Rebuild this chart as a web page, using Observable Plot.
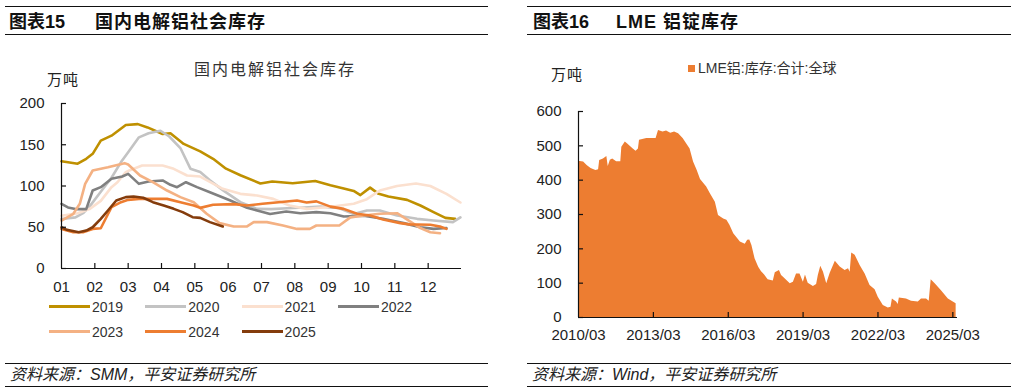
<!DOCTYPE html>
<html><head><meta charset="utf-8">
<script src="https://cdn.jsdelivr.net/npm/d3@7"></script>
<script src="https://cdn.jsdelivr.net/npm/@observablehq/plot@0.6"></script>
<style>
body{margin:0;background:#fff;}
#page{position:relative;width:1017px;height:392px;overflow:hidden;font-family:"Liberation Sans",Arial,"Noto Sans CJK SC",sans-serif;color:#222;background:#fff;}
.rule{position:absolute;height:1.5px;background:#111;}
.ttl{position:absolute;top:13px;font-size:18px;font-weight:700;line-height:18px;white-space:nowrap;color:#111;}
.foot{position:absolute;top:367px;font-size:16px;line-height:16px;font-style:italic;white-space:nowrap;color:#222;}
.unit{position:absolute;font-size:15px;line-height:15px;letter-spacing:1px;color:#222;white-space:nowrap;}
.plotbox{position:absolute;top:90px;}
.plotbox svg{overflow:visible;}
#legL{position:absolute;left:49px;top:294px;width:400px;display:flex;flex-wrap:wrap;}
.li{width:96.3px;height:25px;display:flex;align-items:center;font-size:14px;color:#333;}
.sw{width:41px;height:3px;margin-right:2px;}
</style></head>
<body><div id="page">
  <div class="rule" style="left:5px;width:483px;top:5.5px"></div>
  <div class="ttl" style="left:9px">图表15</div>
  <div class="ttl" style="left:95px;letter-spacing:1px">国内电解铝社会库存</div>
  <div class="rule" style="left:5px;width:483px;top:33.5px"></div>

  <div class="rule" style="left:527px;width:484px;top:5.5px"></div>
  <div class="ttl" style="left:533px">图表16</div>
  <div class="ttl" style="left:616px;letter-spacing:1px">LME 铝锭库存</div>
  <div class="rule" style="left:527px;width:484px;top:33.5px"></div>

  <div style="position:absolute;left:165px;width:220px;top:62px;text-align:center;font-size:16px;line-height:16px;letter-spacing:2px;color:#333;white-space:nowrap">国内电解铝社会库存</div>
  <div class="unit" style="left:47px;top:72px">万吨</div>
  <div class="unit" style="left:551px;top:67px">万吨</div>
  <div style="position:absolute;left:688px;top:64.5px;width:7px;height:7px;background:#ED7D31"></div>
  <div style="position:absolute;left:698px;top:61px;font-size:14px;line-height:14px;color:#333;white-space:nowrap">LME铝:库存:合计:全球</div>

  <div class="plotbox" id="left" style="left:0px"></div>
  <div class="plotbox" id="right" style="left:510px"></div>
  <div id="legL"></div>

  <div class="rule" style="left:5px;width:483px;top:362.5px"></div>
  <div class="foot" style="left:10px">资料来源：SMM，平安证券研究所</div>
  <div class="rule" style="left:5px;width:483px;top:385.5px"></div>

  <div class="rule" style="left:527px;width:484px;top:362.5px"></div>
  <div class="foot" style="left:532px">资料来源：Wind，平安证券研究所</div>
  <div class="rule" style="left:527px;width:484px;top:385.5px"></div>
</div>
<script>
// ---------------- data: left chart (万吨) ----------------
const years = ["2019","2020","2021","2022","2023","2024","2025"];
const yearColors = ["#BF9000","#C3C3C3","#FBE0CF","#808080","#F4B183","#ED7D31","#843C0C"];
const monthLabels = ["01","02","03","04","05","06","07","08","09","10","11","12"];
const yTicksLeft = [0,50,100,150,200];

const s2019 = [["01-01",130],["01-16",127],["01-24",133],["01-30",139],["02-06",155],["02-15",161],["02-27",174],["03-10",175],["03-19",171],["04-02",163],["04-09",164],["04-21",151],["05-06",142],["05-18",133],["05-30",121],["06-12",113],["06-30",103],["07-11",105.5],["07-30",103.4],["08-20",106],["09-03",101],["09-15",97],["09-24",94],["09-30",89],["10-09",98],["10-17",90.5],["10-26",87.3],["11-12",83.2],["11-24",76.4],["12-06",68.3],["12-17",61.4],["12-26",60.2]];
const s2020 = [["01-01",60],["01-14",62],["01-21",67],["01-27",75],["02-06",93],["02-15",110],["02-23",129],["03-01",141],["03-11",159],["03-20",164],["03-31",167],["04-08",160],["04-18",146],["04-27",121],["05-06",117],["05-15",107],["05-27",95],["06-12",80.4],["06-27",72.3],["07-10",72],["07-25",73],["08-10",74],["08-25",75],["09-10",73.5],["09-24",66],["10-06",70.3],["10-18",70.3],["11-03",64.2],["11-21",60.2],["12-06",58.2],["12-24",56.2],["12-31",62]];
const s2021 = [["01-01",64],["01-16",67],["01-27",72],["02-06",82],["02-15",98.6],["02-20",104.6],["02-27",116.8],["03-02",118.8],["03-14",124.8],["03-20",124.8],["04-02",124.8],["04-12",120.8],["04-24",112.7],["05-06",111.5],["05-15",105],["05-27",96.6],["06-12",90.5],["06-27",88.5],["07-12",84.4],["07-27",76.4],["08-12",72.3],["08-30",74.3],["09-12",76.4],["09-24",78.4],["10-06",84],["10-18",94.5],["11-03",100],["11-20",103],["12-03",100],["12-18",90.5],["12-31",80]];
const s2022 = [["01-01",78.4],["01-07",74],["01-14",72],["01-24",72],["01-30",94.5],["02-06",98.6],["02-15",108.7],["02-24",111.5],["03-01",114.7],["03-11",102.6],["03-20",105.5],["04-02",106.7],["04-09",101.4],["04-15",98.6],["04-23",104.6],["05-03",98.6],["05-15",92.5],["06-03",82.4],["06-18",73.5],["06-27",70.3],["07-09",66],["07-24",69],["08-06",67],["08-21",68.3],["09-03",67],["09-15",63],["10-03",64],["10-21",60.2],["11-09",55],["11-24",50],["12-06",48],["12-18",49]];
const s2023 = [["01-01",58],["01-12",66.3],["01-18",78.4],["01-23",102.6],["01-30",118.8],["02-12",122.8],["02-26",127.7],["03-01",126],["03-12",112.7],["03-24",104.6],["04-06",94.5],["04-18",86.5],["04-30",80.4],["05-12",66.3],["05-24",55],["06-06",51],["06-18",51],["06-24",56.2],["07-06",56.2],["07-21",52.1],["08-03",48],["08-15",48],["08-21",52.1],["09-11",52.1],["09-21",62],["10-03",64.2],["10-18",66.3],["11-03",67],["11-09",62],["11-24",49],["12-03",44],["12-12",42.8]];
const s2024 = [["01-01",48],["01-12",44],["01-21",44],["01-30",48],["02-06",48.8],["02-15",74.3],["02-23",80.4],["03-01",83.2],["03-11",84.4],["03-24",84.4],["04-06",84.4],["04-18",80.4],["04-30",76.4],["05-06",73.5],["05-18",77.2],["06-06",78],["06-18",76.4],["07-02",78.4],["07-17",80.4],["08-03",82.4],["08-12",80],["08-21",81.4],["09-03",75],["09-15",72.3],["09-27",66.3],["10-09",64.2],["10-21",59.5],["11-06",55],["11-14",53.5],["11-21",53.3],["12-03",53],["12-12",50.9],["12-18",48]];
const s2025 = [["01-01",50],["01-06",46.9],["01-17",44],["01-24",46],["01-30",50],["02-06",60.2],["02-12",70.3],["02-19",82.4],["02-27",86.5],["03-06",87.3],["03-15",85.7],["03-24",80.4],["04-03",76.4],["04-12",72.3],["04-20",68.3],["04-29",62.2],["05-06",61.4],["05-15",56.2],["05-27",50.9]];
const seriesLeft = [s2019,s2020,s2021,s2022,s2023,s2024,s2025];

// ---------------- data: right chart (万吨) ----------------
const lmeSeriesName = "LME铝:库存:合计:全球";
const yTicksRight = [0,100,200,300,400,500,600];
const xTickLabelsRight = ["2010/03","2013/03","2016/03","2019/03","2022/03","2025/03"];
const lmeDomainEnd = "2025-05-08";
const lme = [["2010-03-01",455],["2010-05-15",453],["2010-07-05",443],["2010-09-01",434],["2010-11-10",428],["2010-12-20",430],["2011-01-05",457],["2011-03-01",462],["2011-04-20",469],["2011-05-10",440],["2011-06-10",458],["2011-07-15",462],["2011-09-10",454],["2011-11-10",454],["2011-11-25",496],["2012-01-15",511],["2012-02-15",506],["2012-05-10",491],["2012-06-20",484],["2012-07-25",491],["2012-08-10",516],["2012-11-25",521],["2013-04-10",521],["2013-05-15",545],["2013-07-20",540],["2013-09-10",543],["2013-11-10",537],["2014-01-05",540],["2014-03-05",535],["2014-05-10",521],["2014-08-20",491],["2014-10-10",453],["2014-12-01",429],["2015-01-20",402],["2015-04-20",380],["2015-06-15",360],["2015-08-25",336],["2015-10-10",297],["2015-12-25",287],["2016-02-10",283],["2016-03-25",269],["2016-05-20",244],["2016-08-25",220],["2016-11-05",213],["2016-12-10",225],["2017-01-10",226],["2017-02-10",210],["2017-03-28",171],["2017-05-20",146],["2017-07-01",133],["2017-08-15",124],["2017-10-05",110],["2017-12-20",106],["2018-01-18",130],["2018-03-20",137],["2018-04-20",122],["2018-06-10",113],["2018-08-25",98],["2018-10-10",103],["2018-11-25",127],["2019-01-15",127],["2019-03-05",103],["2019-04-05",124],["2019-05-15",100],["2019-07-30",90],["2019-09-15",96],["2019-10-10",122],["2019-11-15",149],["2019-12-25",132],["2020-02-10",98],["2020-04-01",129],["2020-06-15",164],["2020-08-25",147],["2020-11-05",137],["2020-12-25",142],["2021-01-18",132],["2021-02-10",188],["2021-04-01",181],["2021-06-15",151],["2021-08-25",127],["2021-11-05",93],["2022-01-18",81],["2022-03-05",59],["2022-05-18",35],["2022-07-30",28],["2022-09-08",30],["2022-09-28",54],["2022-11-28",45],["2022-12-22",38],["2023-01-08",57],["2023-04-22",54],["2023-07-05",47],["2023-10-12",45],["2023-11-28",54],["2024-02-10",54],["2024-03-20",47],["2024-04-18",110],["2024-06-15",98],["2024-09-15",78],["2024-12-25",54],["2025-04-18",40]];

// ---------------- build ----------------
const daysIn = [31,28,31,30,31,30,31,31,30,31,30,31];
function monthPos(s){const [m,d]=s.split("-").map(Number);return m+(d-1)/daysIn[m-1];}
const leftRows = [];
seriesLeft.forEach((s,i)=>s.forEach(([t,v])=>leftRows.push({year:years[i],m:monthPos(t),v})));
const monthTicks = monthLabels.map((_,i)=>i+1);
const axisFont = "Liberation Sans, Arial, sans-serif";

const leftPlot = Plot.plot({
  width:488,height:210,marginLeft:61,marginRight:27,marginTop:13,marginBottom:32,
  style:{fontFamily:axisFont,fontSize:"15px",color:"#222",background:"transparent",overflow:"visible"},
  x:{domain:[1,13]},
  y:{domain:[0,200]},
  color:{domain:years,range:yearColors},
  marks:[
    Plot.line(leftRows,{x:"m",y:"v",z:"year",stroke:"year",strokeWidth:2.6,strokeLinejoin:"round",strokeLinecap:"round"}),
    Plot.ruleX([1],{stroke:"#111",strokeWidth:1.2}),
    Plot.ruleY([0],{stroke:"#111",strokeWidth:1.2}),
    Plot.tickX(monthTicks.slice(1),{x:d=>d,insetTop:160,stroke:"#111",strokeWidth:1.2}),
    Plot.tickY(yTicksLeft,{y:d=>d,insetRight:395,stroke:"#111",strokeWidth:1.2}),
    Plot.axisY({ticks:yTicksLeft,tickSize:0,tickPadding:17,label:null,fontSize:15}),
    Plot.axisX({ticks:monthTicks,tickSize:0,tickPadding:13,label:null,fontSize:15,tickFormat:d=>monthLabels[d-1]})
  ]
});
document.getElementById("left").appendChild(leftPlot);

const parse = d3.utcParse("%Y-%m-%d");
const lmeRows = lme.map(([t,v])=>({date:parse(t),v}));
const xTicksRight = xTickLabelsRight.map(s=>{const [y,m]=s.split("/").map(Number);return new Date(Date.UTC(y,m-1,1));});
const rightPlot = Plot.plot({
  width:507,height:260,marginLeft:68,marginRight:60,marginTop:21,marginBottom:33,
  style:{fontFamily:axisFont,fontSize:"15px",color:"#222",background:"transparent",overflow:"visible"},
  x:{type:"utc",domain:[xTicksRight[0],parse(lmeDomainEnd)]},
  y:{domain:[0,600]},
  marks:[
    Plot.areaY(lmeRows,{x:"date",y:"v",fill:"#ED7D31",curve:"linear",title:()=>lmeSeriesName}),
    Plot.ruleX([xTicksRight[0]],{stroke:"#111",strokeWidth:1.2}),
    Plot.ruleY([0],{stroke:"#111",strokeWidth:1.2}),
    Plot.tickX(xTicksRight.slice(1),{x:d=>d,insetTop:201,stroke:"#111",strokeWidth:1.2}),
    Plot.tickY(yTicksRight,{y:d=>d,insetRight:374,stroke:"#111",strokeWidth:1.2}),
    Plot.axisY({ticks:yTicksRight,tickSize:0,tickPadding:17,label:null,fontSize:15}),
    Plot.axisX({ticks:xTicksRight,tickSize:0,tickPadding:12,label:null,fontSize:15,tickFormat:(d)=>xTickLabelsRight[xTicksRight.findIndex(t=>+t===+d)]})
  ]
});
document.getElementById("right").appendChild(rightPlot);

// legend (left chart)
const leg = document.getElementById("legL");
years.forEach((y,i)=>{
  const it=document.createElement("div");it.className="li";
  it.innerHTML=`<span class="sw" style="background:${yearColors[i]}"></span><span>${y}</span>`;
  leg.appendChild(it);
});
</script>
</body></html>
